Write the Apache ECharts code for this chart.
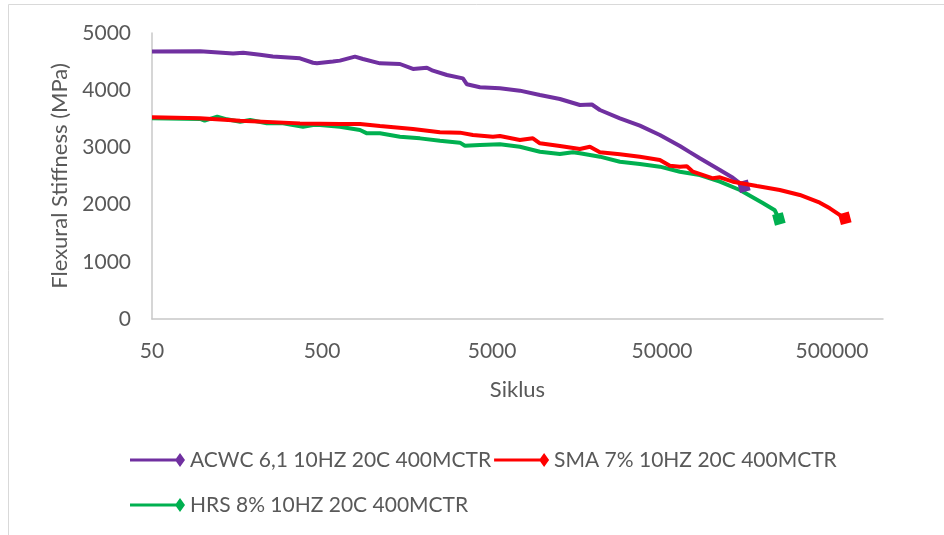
<!DOCTYPE html>
<html>
<head>
<meta charset="utf-8">
<title>Flexural Stiffness vs Siklus</title>
<script src="https://cdn.jsdelivr.net/npm/echarts@6/dist/echarts.min.js"></script>
<style>
  html, body { margin: 0; padding: 0; background: #fff; }
  #chart { width: 944px; height: 535px; }
</style>
</head>
<body>
<div id="chart"></div>
<script>
// data: [siklus, stiffness MPa]
var acwc = [
  [50, 4675], [96, 4680], [150, 4640], [172, 4655], [216, 4620], [257, 4590],
  [371, 4557], [443, 4480], [467, 4470], [580, 4500], [638, 4517], [782, 4587],
  [871, 4545], [1097, 4470], [1438, 4458], [1715, 4371], [2073, 4394], [2248, 4341],
  [2718, 4266], [3375, 4207], [3563, 4103], [4250, 4051], [5571, 4033], [7303, 3992],
  [9580, 3916], [12559, 3846], [16468, 3741], [19373, 3750], [21589, 3654],
  [28311, 3508], [37103, 3380], [48658, 3217], [63800, 3024], [73000, 2917],
  [83650, 2809], [109700, 2605], [130800, 2470], [151900, 2320]
];
var sma = [
  [50, 3526], [96, 3510], [165, 3467], [371, 3420], [638, 3409], [837, 3409],
  [1097, 3374], [1715, 3322], [2472, 3264], [3241, 3258], [3865, 3217], [5068, 3187],
  [5571, 3199], [7303, 3129], [8711, 3159], [9580, 3071], [12559, 3024], [16468, 2972],
  [18858, 3012], [21589, 2914], [28311, 2879], [37103, 2838], [48658, 2780],
  [55725, 2680], [63800, 2663], [70150, 2669], [76100, 2575], [99760, 2459],
  [109700, 2477], [130800, 2400], [181100, 2325], [247000, 2255], [324000, 2168],
  [425000, 2033], [486600, 1935], [596400, 1760]
];
var hrs = [
  [50, 3508], [96, 3497], [102, 3467], [121, 3537], [138, 3491], [165, 3450],
  [189, 3479], [237, 3421], [295, 3421], [387, 3362], [443, 3392], [487, 3392],
  [638, 3362], [837, 3304], [920, 3246], [1097, 3246], [1438, 3187], [1886, 3158],
  [2472, 3118], [3241, 3083], [3469, 3030], [4250, 3042], [5571, 3054], [7303, 3012],
  [9580, 2925], [12559, 2885], [14978, 2914], [16468, 2897], [21589, 2838],
  [28311, 2750], [37103, 2710], [48658, 2663], [63800, 2575], [83650, 2517],
  [109700, 2400], [143800, 2255], [196000, 2028], [231000, 1900], [244000, 1750]
];
var seriesNames = ['ACWC 6,1 10HZ 20C 400MCTR', 'SMA 7% 10HZ 20C 400MCTR', 'HRS 8% 10HZ 20C 400MCTR'];
var seriesColors = ['#7030A0', '#FF0000', '#00B050'];
var xTickLabels = ['50', '500', '5000', '50000', '500000'];

var FONT = 'Lato';
// legend icon: line with a diamond at its right end
var legendIcon = 'path://M0,5.5 L46,5.5 L46,8.5 L0,8.5 Z M50,0 L55,7 L50,14 L45,7 Z';

// only the last point gets a marker
function withEndMarker(arr) {
  return arr.map(function (p, i) {
    if (i === arr.length - 1) {
      return { value: p, symbol: 'rect', symbolSize: 11, symbolRotate: 15 };
    }
    return { value: p, symbol: 'none' };
  });
}

var chart = echarts.init(document.getElementById('chart'));
chart.setOption({
  animation: false,
  backgroundColor: '#fff',
  graphic: [{
    type: 'rect',
    shape: { x: 8.5, y: 4.5, width: 1000, height: 600 },
    style: { fill: 'none', stroke: '#D9D9D9', lineWidth: 1 },
    silent: true
  }],
  grid: { left: 152, right: 61, top: 33, bottom: 216 },
  legend: {
    left: 125,
    top: 434,
    width: 730,
    itemGap: 3,
    itemWidth: 55,
    itemHeight: 14,
    icon: legendIcon,
    textStyle: { fontFamily: FONT, fontSize: 21, color: '#595959', lineHeight: 42 },
    data: seriesNames
  },
  xAxis: {
    type: 'log',
    logBase: 10,
    min: 50,
    max: 1000000,
    interval: 1,
    name: 'Siklus',
    nameLocation: 'middle',
    nameGap: 60,
    nameTextStyle: { fontFamily: FONT, fontSize: 22, color: '#595959' },
    axisLine: { lineStyle: { color: '#C8C8C8', width: 1.5 } },
    axisTick: { show: false },
    splitLine: { show: false },
    minorTick: { show: false },
    axisLabel: {
      fontFamily: FONT, fontSize: 21, color: '#595959', margin: 22,
      showMaxLabel: false,
      formatter: function (v, i) { return xTickLabels[i] || ''; }
    }
  },
  yAxis: {
    type: 'value',
    min: 0,
    max: 5000,
    interval: 1000,
    name: 'Flexural Stiffness (MPa)',
    nameLocation: 'middle',
    nameGap: 78,
    nameTextStyle: { fontFamily: FONT, fontSize: 22, color: '#595959' },
    axisLine: { show: true, lineStyle: { color: '#C8C8C8', width: 1.5 } },
    axisTick: { show: false },
    splitLine: { show: false },
    axisLabel: {
      fontFamily: FONT, fontSize: 21, color: '#595959', margin: 21,
      formatter: function (v) { return String(v); }
    }
  },
  series: [acwc, sma, hrs].map(function (arr, k) {
    return {
      name: seriesNames[k],
      type: 'line',
      data: withEndMarker(arr),
      color: seriesColors[k],
      lineStyle: { width: 4, color: seriesColors[k] },
      itemStyle: { color: seriesColors[k] },
      z: k === 1 ? 3 : 2
    };
  })
});
</script>
</body>
</html>
